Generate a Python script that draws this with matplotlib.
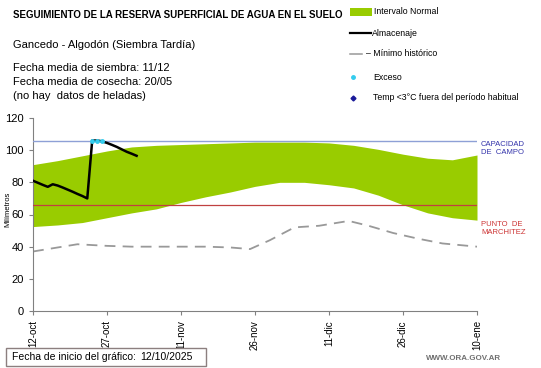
import matplotlib
matplotlib.use("Agg")
import matplotlib.pyplot as plt
from matplotlib.lines import Line2D
from matplotlib.patches import Rectangle
import numpy as np

plt.rcParams['font.family'] = ['Liberation Sans', 'DejaVu Sans']

# ---- data ----
tick_days = [0, 15, 30, 45, 60, 75, 90]
tick_labels = ["12-oct", "27-oct", "11-nov", "26-nov", "11-dic", "26-dic", "10-ene"]

band_days = [0, 5, 10, 15, 20, 25, 30, 35, 40, 45, 50, 55, 60, 65, 70, 75, 80, 85, 90]
band_upper = [91, 93.5, 96.5, 99.5, 102, 103, 103.5, 104, 104.5, 105, 105, 105, 104.5, 103, 100.5, 97.5, 95, 94, 97]
band_lower = [52.5, 53.5, 55, 58, 61, 63.5, 67.5, 71, 74, 77.5, 80, 80, 78.5, 76.5, 72, 66, 61, 58, 56.5]

alm_days = list(range(0, 22))
alm_vals = [81, 79.7, 78.4, 77.2, 78.8, 78, 76.8, 75.5, 74.2, 72.8, 71.5, 70,
            106, 106, 105.5, 104.5, 103.3, 102, 100.5, 99, 97.8, 96.5]

exc_days = [12, 13, 14]
exc_vals = [106, 106, 105.5]

min_days = [0, 5, 9, 15, 20, 25, 30, 35, 40, 44, 48, 53, 58, 64, 68, 73, 78, 83, 90]
min_vals = [37, 39.5, 41.5, 40.5, 40, 40, 40, 40, 39.5, 38.5, 44, 52, 53, 56, 53, 48.5, 45, 42, 40]

capacidad = 106
marchitez = 66

W, H = 541, 368
fig = plt.figure(figsize=(W / 100, H / 100), dpi=100)

def fx(x):
    return x / W

def fy(y):
    return 1 - y / H

ax = fig.add_axes([fx(33), fy(311), fx(477) - fx(33), fy(118) - fy(311)])
ax.fill_between(band_days, band_lower, band_upper, color="#99cc00", lw=0, zorder=1)
ax.plot(min_days, min_vals, color="#999999", lw=1.3, ls=(0, (6, 4)), zorder=2)
ax.axhline(capacidad, color="#8ea0d6", lw=1.0, zorder=3)
ax.axhline(marchitez, color="#c04040", lw=0.9, zorder=3)
ax.plot(alm_days, alm_vals, color="black", lw=1.8, zorder=4)
ax.plot(exc_days, exc_vals, ls="none", marker="o", ms=2.5, color="#33ccee", zorder=5)

ax.set_xlim(0, 90)
ax.set_ylim(0, 120)
ax.set_yticks(range(0, 121, 20))
ax.set_xticks(tick_days)
ax.set_xticklabels(tick_labels, rotation=90, fontsize=7)
ax.tick_params(axis="y", labelsize=8, length=3, color="#808080")
ax.tick_params(axis="x", length=3, color="#808080")
for s in ["top", "right"]:
    ax.spines[s].set_visible(False)
for s in ["left", "bottom"]:
    ax.spines[s].set_color("#808080")
ax.set_facecolor("none")
fig.text(fx(8), fy(209), "Milímetros", fontsize=5.5, rotation=90, va="center", ha="center")

# right labels
fig.text(fx(481), fy(141), "CAPACIDAD\nDE  CAMPO", color="#3333aa", fontsize=5.5,
         va="top", ha="left", linespacing=1.3)
fig.text(fx(481), fy(221), "PUNTO  DE\nMARCHITEZ", color="#cc3333", fontsize=5.5,
         va="top", ha="left", linespacing=1.3)

# header texts
fig.text(fx(13), fy(15), "SEGUIMIENTO DE LA RESERVA SUPERFICIAL DE AGUA EN EL SUELO",
         fontsize=7, fontweight="bold", va="center", ha="left")
fig.text(fx(13), fy(45), "Gancedo - Algodón (Siembra Tardía)", fontsize=8, va="center", ha="left")
fig.text(fx(13), fy(68), "Fecha media de siembra: 11/12", fontsize=8, va="center", ha="left")
fig.text(fx(13), fy(82), "Fecha media de cosecha: 20/05", fontsize=8, va="center", ha="left")
fig.text(fx(13), fy(96), "(no hay  datos de heladas)", fontsize=8, va="center", ha="left")

# legend (manual)
fs_leg = 6.3
fig.patches.append(Rectangle((fx(350), fy(15.5)), fx(372) - fx(350), fy(8.5) - fy(15.5),
                             transform=fig.transFigure, color="#99cc00", lw=0))
fig.text(fx(374), fy(12), "Intervalo Normal", fontsize=fs_leg, va="center", ha="left")
fig.lines.append(Line2D([fx(350), fx(371)], [fy(33), fy(33)], transform=fig.transFigure,
                        color="black", lw=1.6))
fig.text(fx(372), fy(33), "Almacenaje", fontsize=fs_leg, va="center", ha="left")
fig.lines.append(Line2D([fx(350), fx(362)], [fy(54), fy(54)], transform=fig.transFigure,
                        color="#999999", lw=1.1))
fig.text(fx(366), fy(54), "– Mínimo histórico", fontsize=fs_leg, va="center", ha="left")
fig.lines.append(Line2D([fx(353)], [fy(77)], transform=fig.transFigure, ls="none",
                        marker="o", ms=2.5, color="#33ccee"))
fig.text(fx(373), fy(77), "Exceso", fontsize=fs_leg, va="center", ha="left")
fig.lines.append(Line2D([fx(353)], [fy(98)], transform=fig.transFigure, ls="none",
                        marker="D", ms=2.5, color="#1a1a99"))
fig.text(fx(373), fy(98), "Temp <3°C fuera del período habitual", fontsize=fs_leg, va="center", ha="left")

# bottom box
fig.patches.append(Rectangle((fx(5.5), fy(366)), fx(206) - fx(5.5), fy(348) - fy(366),
                             transform=fig.transFigure, facecolor="white",
                             edgecolor="#8c7f7f", lw=1.0))
fig.text(fx(12), fy(357), "Fecha de inicio del gráfico:", fontsize=7.5, va="center", ha="left")
fig.text(fx(140), fy(357), "12/10/2025", fontsize=7.5, va="center", ha="left")
fig.text(fx(501), fy(359), "WWW.ORA.GOV.AR", fontsize=5.8, color="#707070",
         fontweight="bold", va="center", ha="right")

fig.savefig("out.png", dpi=100)
